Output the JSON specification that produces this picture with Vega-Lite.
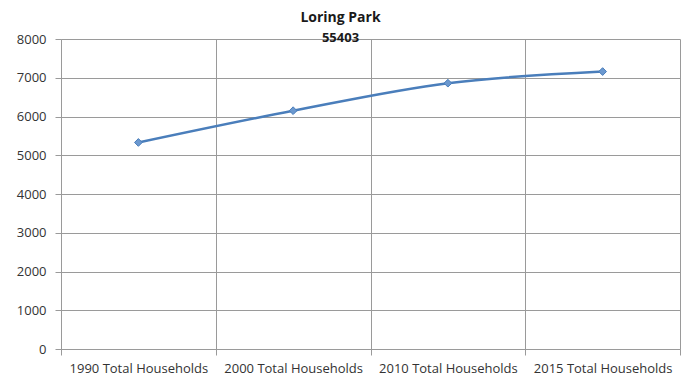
{
  "$schema": "https://vega.github.io/schema/vega-lite/v6.json",
  "width": 619,
  "height": 310,
  "autosize": {"type": "none"},
  "padding": {"left": 61, "top": 39, "right": 8, "bottom": 32},
  "background": "white",
  "title": {
    "text": "Loring Park",
    "subtitle": "55403",
    "anchor": "middle",
    "dx": -30,
    "offset": -12,
    "font": "Open Sans",
    "fontSize": 14,
    "fontWeight": "bold",
    "color": "#1a1a1a",
    "subtitleFont": "Open Sans",
    "subtitleFontSize": 13,
    "subtitleFontWeight": "bold",
    "subtitleColor": "#1a1a1a",
    "subtitlePadding": 7
  },
  "config": {
    "view": {"stroke": null},
    "axis": {
      "labelFont": "Open Sans",
      "labelFontSize": 13,
      "labelColor": "#333333",
      "gridColor": "#9a9a9a",
      "gridOpacity": 1,
      "gridWidth": 1,
      "domainColor": "#9a9a9a",
      "tickColor": "#9a9a9a",
      "tickSize": 6
    }
  },
  "data": {
    "values": [
      {"period": "1990 Total Households", "households": 5330},
      {"period": "2000 Total Households", "households": 6150},
      {"period": "2010 Total Households", "households": 6860},
      {"period": "2015 Total Households", "households": 7160}
    ]
  },
  "encoding": {
    "x": {
      "field": "period",
      "type": "nominal",
      "bandPosition": 0.5,
      "scale": {"type": "band", "paddingInner": 0, "paddingOuter": 0},
      "axis": {
        "title": null,
        "labelAngle": 0,
        "tickBand": "extent",
        "grid": true,
        "labelPadding": 7
      }
    },
    "y": {
      "field": "households",
      "type": "quantitative",
      "scale": {"domain": [0, 8000], "nice": false},
      "axis": {
        "title": null,
        "values": [0, 1000, 2000, 3000, 4000, 5000, 6000, 7000, 8000],
        "format": "d",
        "grid": true,
        "labelPadding": 9
      }
    }
  },
  "layer": [
    {
      "mark": {"type": "line", "interpolate": "catmull-rom", "color": "#4a7ebb", "strokeWidth": 2.5}
    },
    {
      "mark": {"type": "point", "shape": "diamond", "size": 60, "filled": true, "color": "#6b98cf", "stroke": "#4a7ebb", "strokeWidth": 1, "opacity": 1}
    }
  ]
}
